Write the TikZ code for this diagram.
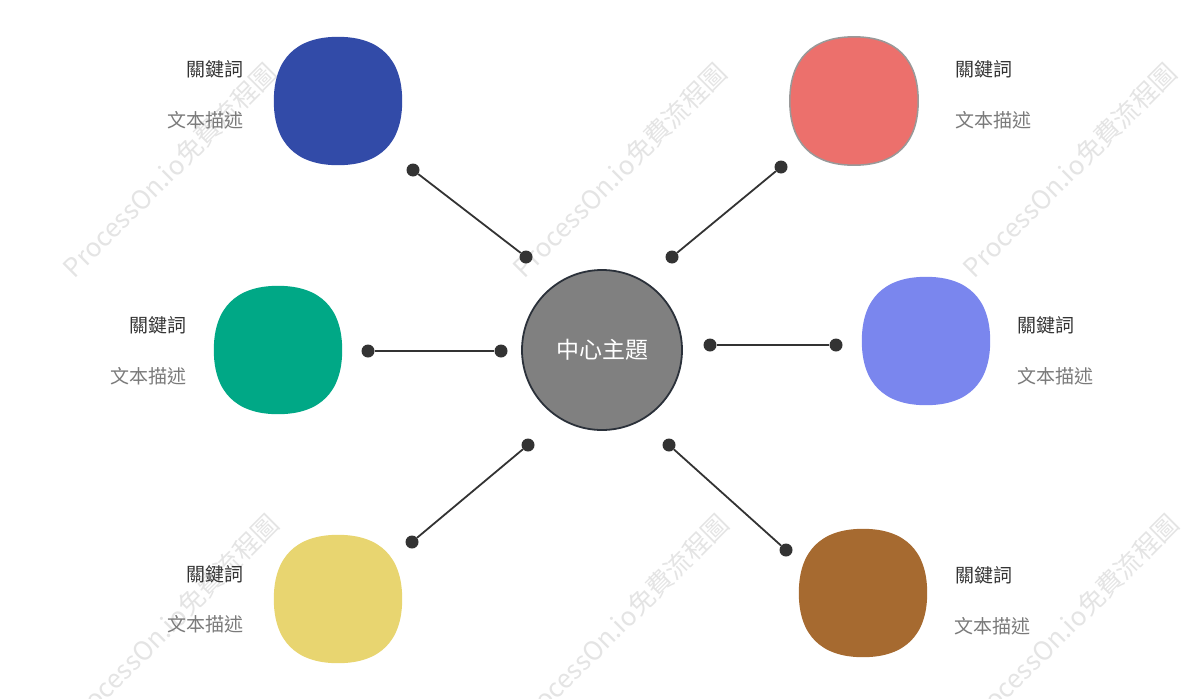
\documentclass[tikz,border=0pt]{standalone}
\usepackage{fontspec}
\setmainfont{Noto Sans CJK TC}
\definecolor{cblue}{HTML}{324BA8}
\definecolor{cred}{HTML}{EC706C}
\definecolor{cgreen}{HTML}{00A886}
\definecolor{cpurple}{HTML}{7A86EE}
\definecolor{cyellow}{HTML}{E8D570}
\definecolor{cbrown}{HTML}{A66A30}
\definecolor{cgray}{HTML}{808080}
\definecolor{cedge}{HTML}{2B313A}
\definecolor{cdark}{HTML}{333333}
\definecolor{cdesc}{HTML}{7A7A7A}
\definecolor{cwm}{HTML}{E4E4E4}
\newcommand{\sqblob}[2]{\path[#2] (#1.east) .. controls +(0,42) and +(42,0) .. (#1.south) .. controls +(-42,0) and +(0,42) .. (#1.west) .. controls +(0,-42) and +(-42,0) .. (#1.north) .. controls +(42,0) and +(0,-42) .. (#1.east) -- cycle;}
\begin{document}
\begin{tikzpicture}[x=1pt,y=-1pt,
  blob/.style={circle,minimum size=128pt,inner sep=0pt,draw=none},
  hub/.style={circle,minimum size=160pt,inner sep=0pt,fill=cgray,draw=cedge,line width=1.8pt,text=white,font=\fontsize{23}{27}\selectfont},
  dotnode/.style={circle,fill=cdark,minimum size=13pt,inner sep=0pt},
  link/.style={draw=cdark,line width=1.8pt},
  kw/.style={text=cdark,font=\fontsize{19}{23}\selectfont,inner sep=0pt},
  desc/.style={text=cdesc,font=\fontsize{19}{23}\selectfont,inner sep=0pt},
  wm/.style={text=cwm,font=\fontsize{26}{30}\selectfont,rotate=45,inner sep=0pt}]
\useasboundingbox (0,0) rectangle (1203,699);
% watermarks
\node[wm] (w1) at (170,170) {ProcessOn.io免費流程圖};
\node[wm] (w2) at (620,170) {ProcessOn.io免費流程圖};
\node[wm] (w3) at (1070,170) {ProcessOn.io免費流程圖};
\node[wm] (w4) at (172,621) {ProcessOn.io免費流程圖};
\node[wm] (w5) at (622,621) {ProcessOn.io免費流程圖};
\node[wm] (w6) at (1072,621) {ProcessOn.io免費流程圖};
% blobs
\node[blob] (b1) at (338,101) {};
\node[blob] (b2) at (854,101) {};
\node[blob] (b3) at (278,350) {};
\node[blob] (b4) at (926,341) {};
\node[blob] (b5) at (338,599) {};
\node[blob] (b6) at (863,593) {};
\sqblob{b1}{fill=cblue}
\sqblob{b2}{fill=cred,draw=gray!80,line width=1.5pt}
\sqblob{b3}{fill=cgreen}
\sqblob{b4}{fill=cpurple}
\sqblob{b5}{fill=cyellow}
\sqblob{b6}{fill=cbrown}
% hub
\node[hub] (c) at (602,350) {中心主題};
% dots
\node[dotnode] (d1a) at (413,170) {};
\node[dotnode] (d1b) at (526,257) {};
\node[dotnode] (d2a) at (781,167) {};
\node[dotnode] (d2b) at (672,257) {};
\node[dotnode] (d3a) at (368,351) {};
\node[dotnode] (d3b) at (501,351) {};
\node[dotnode] (d4a) at (836,345) {};
\node[dotnode] (d4b) at (710,345) {};
\node[dotnode] (d5a) at (412,542) {};
\node[dotnode] (d5b) at (528,445) {};
\node[dotnode] (d6a) at (786,550) {};
\node[dotnode] (d6b) at (669,445) {};
% links
\draw[link] (d1a) -- (d1b);
\draw[link] (d2a) -- (d2b);
\draw[link] (d3a) -- (d3b);
\draw[link] (d4a) -- (d4b);
\draw[link] (d5a) -- (d5b);
\draw[link] (d6a) -- (d6b);
% labels
\node[kw,anchor=east] (k1) at (244,69) {關鍵詞};
\node[desc,anchor=east] (t1) at (244,120) {文本描述};
\node[kw,anchor=west] (k2) at (955,69) {關鍵詞};
\node[desc,anchor=west] (t2) at (955,120) {文本描述};
\node[kw,anchor=east] (k3) at (187,325) {關鍵詞};
\node[desc,anchor=east] (t3) at (187,376) {文本描述};
\node[kw,anchor=west] (k4) at (1017,325) {關鍵詞};
\node[desc,anchor=west] (t4) at (1017,376) {文本描述};
\node[kw,anchor=east] (k5) at (244,574) {關鍵詞};
\node[desc,anchor=east] (t5) at (244,624) {文本描述};
\node[kw,anchor=west] (k6) at (955,575) {關鍵詞};
\node[desc,anchor=west] (t6) at (954,626) {文本描述};
\end{tikzpicture}
\end{document}
